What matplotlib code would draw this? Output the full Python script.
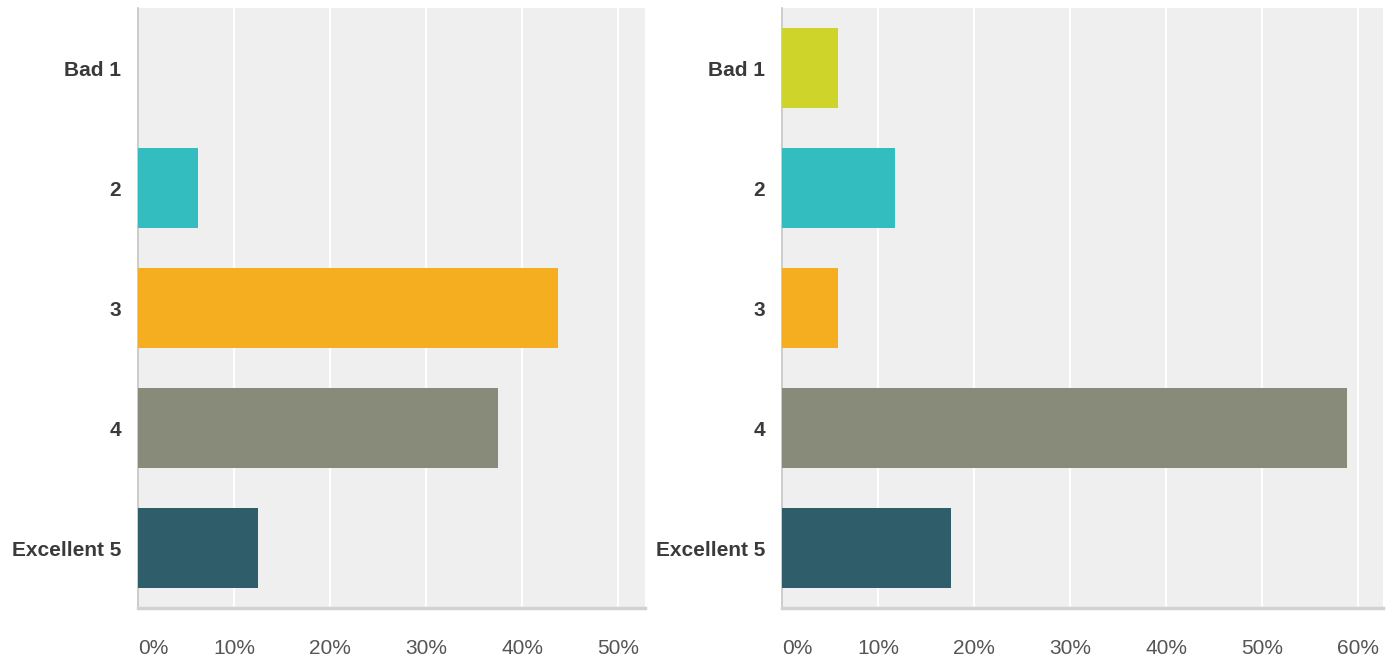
import matplotlib
matplotlib.use("Agg")
import matplotlib.pyplot as plt

# answer categories (top to bottom)
categories = ["Bad 1", "2", "3", "4", "Excellent 5"]
bar_colors = ["#cfd42b", "#33bdbe", "#f5ae20", "#888a7a", "#2f5e6a"]

# percentages
left_values = [0.0, 6.25, 43.75, 37.5, 12.5]
right_values = [5.88, 11.76, 5.88, 58.82, 17.65]

left_ticks = [0, 10, 20, 30, 40, 50]
right_ticks = [0, 10, 20, 30, 40, 50, 60]

plt.rcParams["font.family"] = ["Liberation Sans", "DejaVu Sans"]

fig = plt.figure(figsize=(13.97, 6.63), dpi=100)
ax1 = fig.add_axes([138 / 1397, 55 / 663, 507 / 1397, 600 / 663])
ax2 = fig.add_axes([782 / 1397, 55 / 663, 601 / 1397, 600 / 663])


def draw(ax, values, ticks, xmax):
    ax.set_facecolor("#efefef")
    ypos = list(range(len(categories)))
    ax.barh(ypos, values, height=0.667, color=bar_colors, zorder=3)
    ax.set_ylim(len(categories) - 0.5, -0.5)
    ax.set_xlim(0, xmax)
    ax.set_xticks(ticks)
    ax.set_xticklabels([f"{t}%" for t in ticks], fontsize=15, color="#555555")
    ax.get_xticklabels()[0].set_horizontalalignment("left")
    ax.set_yticks(ypos)
    ax.set_yticklabels(categories, fontsize=15, fontweight="bold", color="#3a3a3a")
    ax.tick_params(axis="both", length=0)
    ax.tick_params(axis="x", pad=22)
    ax.tick_params(axis="y", pad=12)
    ax.grid(axis="x", color="white", linewidth=1.5, zorder=0)
    ax.set_axisbelow(True)
    for side in ["top", "right"]:
        ax.spines[side].set_visible(False)
    ax.spines["left"].set_color("#c4c4c4")
    ax.spines["left"].set_linewidth(1.2)
    ax.spines["bottom"].set_color("#d2d2d2")
    ax.spines["bottom"].set_linewidth(2.5)


draw(ax1, left_values, left_ticks, 52.8)
draw(ax2, right_values, right_ticks, 62.6)

fig.savefig("out.png", dpi=100, facecolor="white")
